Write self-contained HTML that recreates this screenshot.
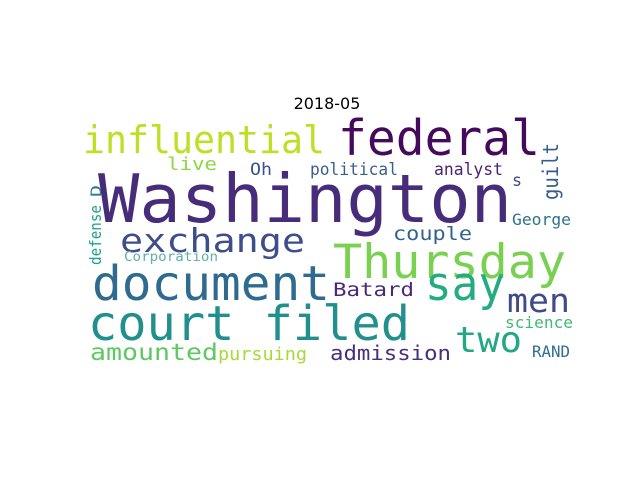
<!DOCTYPE html>
<html><head><meta charset="utf-8"><style>
html,body{margin:0;padding:0;background:#fff;width:640px;height:480px;overflow:hidden}
text{font-family:"DejaVu Sans Mono","Liberation Mono",monospace}
</style></head><body>
<svg width="640" height="480">
<text x="327" y="109" text-anchor="middle" font-size="16" style="font-family:'DejaVu Sans','Liberation Sans',sans-serif">2018-05</text>
<g id="cloud"></g>
</svg>
<script>
const words=["Washington","federal","influential","Thursday","document","court filed","exchange","say","men","two","couple","Batard","admission","amounted","pursuing","live","Oh","political","analyst","s","George","science","RAND","Corporation","guilt","defense","D"];
const sizes=[67,49,38,47,48,48,33,47,33,36,19,19,20,23,18,18,17,17,17,17,16,16,16,13,21,16,14];
const colors=["#472c7a","#450a5c","#bddf26","#7ad151","#2f6b8e","#21908d","#3d4e8a","#25ab82","#3e4a89","#22a884","#33638d","#482878","#472f7d","#5ec962","#a5db36","#8ed645","#3b528b","#3b5f8c","#482475","#3e4989","#2c728e","#3dbc74","#2f6c8e","#5fb0a6","#365c8d","#1fa187","#2a788e"];
const posX=[98,338,83,333,92,88,120,425,507,455,393,333,330,90,218,167,250,310,434,512,512,505,532,124,558,101,101];
const posY=[222,155,153,278,300,340,252,300,312,352,240,296,360,360,360,170,175,175,175,186,225,328,357,261,200,265,197];
const widths=[414,202,242,233,238,322,185,80,63,67,79,81,121,128,89,50,22,88,69,10,59,68,38,94,57,60,12];
const rot=[0,0,0,0,0,0,0,0,0,0,0,0,0,0,0,0,0,0,0,0,0,0,0,0,1,1,1];
const g=document.getElementById('cloud');
const NS="http://www.w3.org/2000/svg";
words.forEach((w,i)=>{
  const t=document.createElementNS(NS,'text');
  t.textContent=w;
  t.setAttribute('x',rot[i]?0:posX[i]);
  t.setAttribute('y',rot[i]?0:posY[i]);
  if(rot[i]) t.setAttribute('transform','translate('+posX[i]+','+posY[i]+') rotate(-90)');
  t.setAttribute('font-size',sizes[i]);
  t.setAttribute('fill',colors[i]);
  t.setAttribute('textLength',widths[i]);
  t.setAttribute('lengthAdjust','spacingAndGlyphs');
  
  
  g.appendChild(t);
});
</script>
</body></html>
